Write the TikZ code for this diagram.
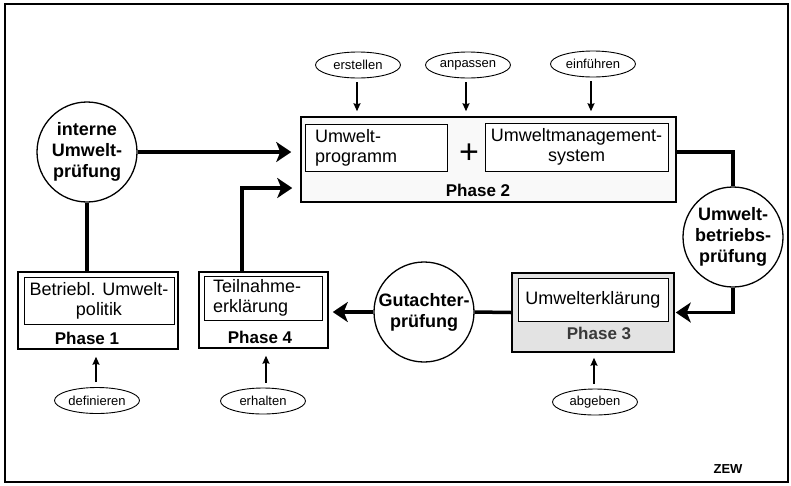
\documentclass[tikz,border=0pt]{standalone}
\usepackage{fontspec}
\setmainfont{Liberation Sans}
\usetikzlibrary{shapes.geometric, arrows.meta}
\tikzset{
outer/.style={draw, line width=1.5pt, inner sep=0pt}, % the phase frames
inner/.style={draw, line width=1pt, fill=white, inner sep=0pt, font=\fontsize{18}{20}\selectfont},
phase/.style={font=\fontsize{17}{17}\selectfont\bfseries, inner sep=0pt},
check/.style={circle, draw, line width=1.3pt, fill=white, minimum size=100pt, inner sep=0pt, align=center, font=\fontsize{18}{21}\selectfont\bfseries},
task/.style={ellipse, draw, line width=0.9pt, minimum width=85pt, minimum height=26pt, inner sep=0pt, font=\fontsize{13}{14}\selectfont},
flow/.style={line width=3.5pt},
flowarrow/.style={flow, -{Stealth[length=15pt,width=20pt,inset=4pt]}},
act/.style={line width=1.5pt, -{Stealth[length=8pt,width=7pt,inset=1pt]}},
}

\begin{document}
\begin{tikzpicture}[x=1pt, y=-1pt]
\useasboundingbox (0,0) rectangle (791,485);
\draw[line width=2pt] (5,4) rectangle (788,482);

% phases
\node[outer, fill=gray!5, minimum width=375pt, minimum height=85pt] at (488.5, 159.5) (P2) {};
\node[inner, minimum width=142pt, minimum height=47pt, text width=122pt, align=left] at (376, 147.5) (UP) {Umwelt-\\programm};
\node[inner, minimum width=183pt, minimum height=48pt, align=center] at (576.5, 147) (UMS) {Umweltmanagement-\\system};
\node[font=\fontsize{34}{34}\selectfont, inner sep=0pt] at (469, 154) (plus) {+};
\node[phase] at (478, 190) (L2) {Phase 2};

\node[outer, minimum width=160pt, minimum height=77pt] at (98, 310.5) (P1) {};
\node[inner, minimum width=150pt, minimum height=47pt, align=center] at (99, 300.5) (BU) {Betriebl. Umwelt-\\politik};
\node[phase] at (87, 338) (L1) {Phase 1};

\node[outer, minimum width=129pt, minimum height=76pt] at (263.5, 310) (P4) {};
\node[inner, minimum width=118pt, minimum height=44pt, text width=100pt, align=left] at (263, 298) (TE) {Teilnahme-\\erklärung};
\node[phase] at (260, 337) (L4) {Phase 4};

\node[outer, fill=gray!22, minimum width=162pt, minimum height=79pt] at (593, 312.5) (P3) {};
\node[inner, minimum width=150pt, minimum height=43pt, align=center] at (593, 299.5) (UE) {Umwelterklärung};
\node[phase, text=gray!45!black] at (599, 333) (L3) {Phase 3};

% checks
\node[check] at (87, 152) (IU) {interne\\Umwelt-\\prüfung};
\node[check] at (733, 237) (UBP) {Umwelt-\\betriebs-\\prüfung};
\node[check] at (424, 312) (GP) {Gutachter-\\prüfung};

% tasks
\node[task] at (358, 65) (ER) {erstellen};
\node[task] at (468, 65) (AP) {anpassen};
\node[task] at (593, 64) (EF) {einführen};
\node[task] at (97, 400.5) (DF) {definieren};
\node[task] at (263, 401) (EH) {erhalten};
\node[task] at (595, 402) (AG) {abgeben};

% flow
\draw[flowarrow, shorten >=9pt] (IU) -- (IU -| P2.west);
\draw[flowarrow, shorten >=8pt] ([xshift=-21.5pt]P4.north) |- ([yshift=-28.5pt]P2.west);
\draw[flow] (IU.south) -- (IU.south |- P1.north);
\draw[flow] ([yshift=7.5pt]P2.east) -| (UBP.north);
\draw[flowarrow, shorten >=1pt] (UBP.south) |- (P3.east);
\draw[flow] (P3.west) -- (GP.east);
\draw[flowarrow, shorten >=4pt] (GP.west) -- (GP.west -| P4.east);

% activities
\draw[act, shorten <=4pt, shorten >=5pt] ([xshift=-1pt]ER.south) -- ([xshift=-1pt]ER.south |- P2.north);
\draw[act, shorten <=4pt, shorten >=5pt] ([xshift=-2pt]AP.south) -- ([xshift=-2pt]AP.south |- P2.north);
\draw[act, shorten <=4pt, shorten >=5pt] ([xshift=-2pt]EF.south) -- ([xshift=-2pt]EF.south |- P2.north);
\draw[act, shorten <=5pt, shorten >=7pt] ([xshift=-1pt]DF.north) -- ([xshift=-1pt]DF.north |- P1.south);
\draw[act, shorten <=5pt, shorten >=7pt] ([xshift=3pt]EH.north) -- ([xshift=3pt]EH.north |- P4.south);
\draw[act, shorten <=5pt, shorten >=5pt] ([xshift=-1pt]AG.north) -- ([xshift=-1pt]AG.north |- P3.south);

\node[font=\fontsize{13}{14}\selectfont\bfseries] at (728, 469) (ZEW) {ZEW};
\end{tikzpicture}
\end{document}
